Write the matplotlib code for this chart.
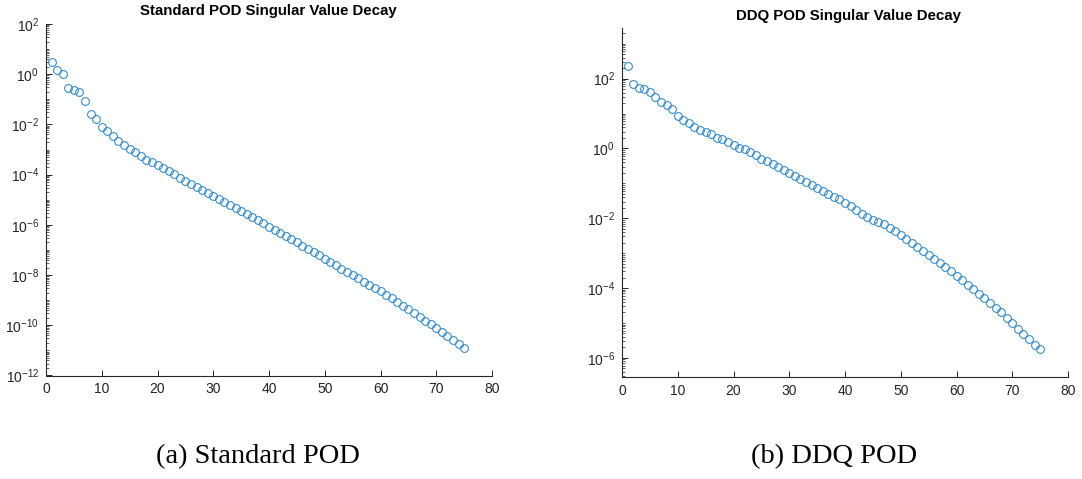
import numpy as np
import matplotlib
matplotlib.use("Agg")
import matplotlib.pyplot as plt
from matplotlib.ticker import LogLocator, FixedLocator

# ---- data (log10 of singular values) ----
mode_index = list(range(1, 76))

standard_log10 = [
    0.48, 0.15, -0.01, -0.53, -0.61, -0.72, -1.05, -1.59, -1.77, -2.11,
    -2.25, -2.48, -2.65, -2.80, -2.99, -3.11, -3.25, -3.40, -3.51, -3.63,
    -3.75, -3.87, -3.99, -4.12, -4.24, -4.36, -4.48, -4.60, -4.72, -4.85,
    -4.97, -5.09, -5.21, -5.33, -5.45, -5.57, -5.69, -5.81, -5.94, -6.07,
    -6.19, -6.32, -6.45, -6.58, -6.70, -6.83, -6.96, -7.09, -7.22, -7.35,
    -7.48, -7.61, -7.74, -7.87, -8.00, -8.13, -8.26, -8.38, -8.51, -8.65,
    -8.79, -8.93, -9.08, -9.22, -9.37, -9.52, -9.66, -9.81, -9.96, -10.11,
    -10.27, -10.42, -10.58, -10.74, -10.90,
]

ddq_log10 = [
    2.37, 1.84, 1.74, 1.70, 1.61, 1.48, 1.33, 1.24, 1.13, 0.94,
    0.80, 0.73, 0.61, 0.53, 0.47, 0.40, 0.31, 0.26, 0.18, 0.11,
    0.02, -0.02, -0.11, -0.20, -0.29, -0.37, -0.45, -0.52, -0.62, -0.69,
    -0.78, -0.87, -0.95, -1.04, -1.13, -1.21, -1.30, -1.38, -1.46, -1.55,
    -1.66, -1.77, -1.87, -1.96, -2.04, -2.10, -2.17, -2.27, -2.38, -2.49,
    -2.59, -2.70, -2.81, -2.93, -3.06, -3.16, -3.27, -3.39, -3.52, -3.65,
    -3.78, -3.91, -4.03, -4.16, -4.29, -4.42, -4.56, -4.70, -4.85, -5.01,
    -5.17, -5.32, -5.47, -5.62, -5.76,
]

titles = ["Standard POD Singular Value Decay", "DDQ POD Singular Value Decay"]
captions = ["(a) Standard POD", "(b) DDQ POD"]
x_ticks = [0, 10, 20, 30, 40, 50, 60, 70, 80]
std_yticks_exp = [2, 0, -2, -4, -6, -8, -10, -12]
ddq_yticks_exp = [2, 0, -2, -4, -6]

plt.rcParams["font.family"] = ["Liberation Sans", "DejaVu Sans"]
plt.rcParams["mathtext.fontset"] = "custom"
plt.rcParams["mathtext.rm"] = "Liberation Sans"
plt.rcParams["mathtext.it"] = "Liberation Sans"
plt.rcParams["mathtext.default"] = "regular"
plt.rcParams["axes.unicode_minus"] = False

W, H = 1082, 479
fig = plt.figure(figsize=(W / 100, H / 100), dpi=100)

def box(x0, x1, ytop, ybot):
    return [x0 / W, 1 - ybot / H, (x1 - x0) / W, (ybot - ytop) / H]

ax1 = fig.add_axes(box(46, 492, 24, 375.5))
ax2 = fig.add_axes(box(622, 1068, 28, 376.7))

marker_color = "#2A88D4"
axis_color = "#262626"

def style(ax, yexps, ylim):
    ax.set_yscale("log")
    ax.set_xlim(0, 80)
    ax.set_ylim(*ylim)
    ax.set_xticks(x_ticks)
    ax.set_xticklabels([str(t) for t in x_ticks])
    ax.yaxis.set_major_locator(FixedLocator([10.0 ** e for e in yexps]))
    ax.set_yticklabels([r"$10^{%d}$" % e for e in yexps])
    ax.yaxis.set_minor_locator(LogLocator(base=10, subs=np.arange(1, 10), numticks=100))
    ax.yaxis.set_minor_formatter(matplotlib.ticker.NullFormatter())
    for s in ["top", "right"]:
        ax.spines[s].set_visible(False)
    for s in ["left", "bottom"]:
        ax.spines[s].set_color(axis_color)
        ax.spines[s].set_linewidth(0.8)
    ax.tick_params(axis="both", which="major", direction="in", length=4,
                   width=0.7, colors=axis_color, labelsize=10, pad=5)
    ax.tick_params(axis="y", which="minor", direction="in", length=2,
                   width=0.5, colors=axis_color)
    ax.set_facecolor("white")

ax1.plot(mode_index, 10.0 ** np.array(standard_log10), "o", mfc="none",
         mec=marker_color, ms=5.6, mew=0.75, clip_on=False)
ax2.plot(mode_index, 10.0 ** np.array(ddq_log10), "o", mfc="none",
         mec=marker_color, ms=5.6, mew=0.75, clip_on=False)

style(ax1, std_yticks_exp, (1e-12, 1e2))
style(ax2, ddq_yticks_exp, (10 ** -6.54, 10 ** 3.45))

fig.text(268 / W, 1 - 11 / H, titles[0], ha="center", va="center",
         fontsize=10.8, fontweight="bold", color="black")
fig.text(848 / W, 1 - 16 / H, titles[1], ha="center", va="center",
         fontsize=10.8, fontweight="bold", color="black")

fig.text(257.5 / W, 1 - 457 / H, captions[0], ha="center", va="center",
         fontsize=20.5, family="Liberation Serif", color="black")
fig.text(834 / W, 1 - 457 / H, captions[1], ha="center", va="center",
         fontsize=20.5, family="Liberation Serif", color="black")

fig.savefig("out.png", dpi=100, facecolor="white")
